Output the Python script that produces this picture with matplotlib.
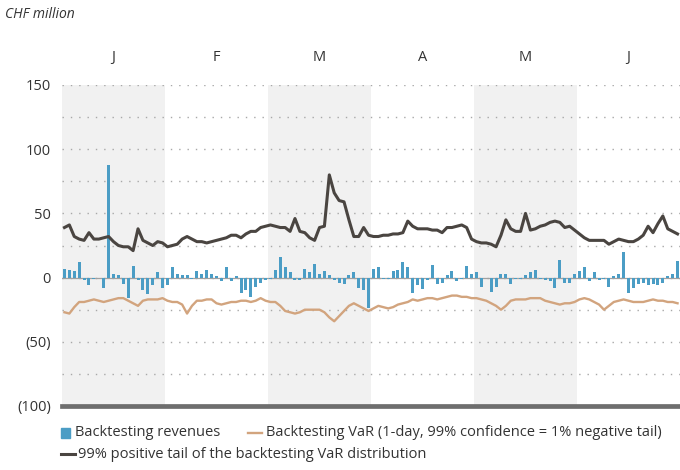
import matplotlib
matplotlib.use("Agg")
import matplotlib.pyplot as plt
from matplotlib.lines import Line2D
from matplotlib.patches import Rectangle
from matplotlib.ticker import MultipleLocator, FuncFormatter

# ---- data (CHF million, daily, Jan-Jun) ----
months = ["J", "F", "M", "A", "M", "J"]
days_per_month = 21

revenues = [7, 6, 5, 12, -2, -6, -1, 0, -8, 88, 3, 2, -5, -16, 9, -2, -10, -13, -6, 4, -8,
            -6, 8.5, 3, 2, 2, -1, 5, 3, 6, 3, 1, -3, 8, -3, 1, -12, -9.5, -15, -7, -4,
            -2, -1, 6, 16, 8, 4, -2, -2, 7, 4, 10.5, 3, 5, 2, -2, -4, -5, 2, 4, -8, -10, -24,
            7, 8, -1, -1, 5, 6, 12, 8, -12, -6, -9, -2, 10, -5, -4, 2, 5, -3, -1, 9,
            3, 4, -7, 0, -11, -7, 3, 3, -5, -1, -1, 2, 4, 6, -1, -2, -3, -8, 14, -4, -4,
            3, 5, 8, -3, 4, -2, -1, -7, 1, 3, 20, -12, -8, -5, -4, -6, -5, -6, -4, 1, 3, 13]

var_1day = [-27, -28, -23, -19, -19, -18, -17, -18, -19, -18, -17, -16, -16, -18, -20, -22, -18, -17, -17, -17, -16,
            -18, -19, -19, -21, -28, -22, -18, -18, -17, -17, -20, -21, -20, -19, -19, -18, -18, -19, -18, -16,
            -18, -19, -19, -22, -26, -27, -28, -27, -25, -25, -25, -25, -27, -31, -34, -30, -26, -22, -20, -22, -24, -26,
            -24, -22, -23, -24, -23, -21, -20, -19, -17, -18, -17, -16, -16, -17, -16, -15, -14, -14, -15, -15,
            -16, -16, -17, -18, -20, -22, -25, -22, -18, -17, -17, -17, -16, -16, -16, -18, -19, -20, -21, -20, -20,
            -19, -17, -16, -17, -19, -21, -25, -22, -19, -18, -17, -18, -19, -19, -19, -18, -17, -18, -18, -19, -19, -20]

pos_tail = [39, 41, 32, 30, 29, 35, 30, 30, 31, 32, 28, 25, 24, 24, 21, 38, 29, 27, 25, 28, 27,
            24, 25, 26, 30, 32, 30, 28, 28, 27, 28, 29, 30, 31, 33, 33, 31, 34, 36, 36, 39,
            40, 41, 40, 39, 39, 36, 46, 36, 35, 31, 29, 39, 40, 80, 66, 60, 59, 45, 32, 32, 39, 33,
            32, 32, 33, 33, 34, 34, 35, 44, 40, 38, 38, 38, 37, 37, 35, 39, 39, 40, 41, 39,
            30, 28, 27, 27, 26, 24, 33, 45, 38, 36, 36, 50, 37, 38, 40, 41, 43, 44, 43, 39, 40,
            37, 34, 31, 29, 29, 29, 29, 26, 28, 30, 29, 28, 28, 30, 33, 40, 35, 42, 48, 38, 36, 34]

yticks = [150, 100, 50, 0, -50, -100]

legend_labels = ["Backtesting revenues",
                 "Backtesting VaR (1-day, 99% confidence = 1% negative tail)",
                 "99% positive tail of the backtesting VaR distribution"]

# ---- style ----
c_bar = "#4b9dc5"
c_var = "#d2a47e"
c_tail = "#4a4541"
c_text = "#333333"
c_band = "#f1f1f1"
plt.rcParams["font.family"] = ["Open Sans", "DejaVu Sans"]

fig = plt.figure(figsize=(6.8, 4.7), dpi=100)
ax = fig.add_axes([62 / 680, (470 - 406) / 470, (680 - 62) / 680, (406 - 85) / 470])

n = len(revenues)
days = list(range(n))

# month bands
for k in range(len(months)):
    x0 = -0.5 + k * days_per_month
    if k % 2 == 0:
        ax.axvspan(x0, x0 + days_per_month, color=c_band, zorder=0, lw=0)
    ax.text(x0 + days_per_month / 2, 1.087, months[k], transform=ax.get_xaxis_transform(),
            ha="center", va="center", fontsize=10.5, color=c_text)

ax.set_xlim(-0.5, n - 0.5)
ax.set_ylim(-100, 150)

ax.yaxis.set_major_locator(MultipleLocator(50))
ax.yaxis.set_minor_locator(MultipleLocator(25))
ax.grid(axis="y", which="both", linestyle=(0, (1, 5)), color="#a8a8a8", lw=1.0, zorder=1)
ax.axhline(0, color="#a0a0a0", lw=0.9, zorder=2)

ax.bar(days, revenues, width=0.62, color=c_bar, zorder=3)
ax.plot(days, var_1day, color=c_var, lw=1.7, zorder=4)
ax.plot(days, pos_tail, color=c_tail, lw=2.2, zorder=5)

for s in ["top", "right", "left"]:
    ax.spines[s].set_visible(False)
ax.spines["bottom"].set_linewidth(3.4)
ax.spines["bottom"].set_color("#6e6e6e")
ax.spines["bottom"].set_position(("data", -100))
ax.set_xticks([])
ax.set_yticks(yticks)
ax.yaxis.set_major_formatter(FuncFormatter(lambda v, p: f"({abs(int(v))})" if v < 0 else f"{int(v)}"))
ax.tick_params(axis="y", which="both", length=0, pad=8, labelsize=10.5, labelcolor=c_text)

fig.text(5 / 680, 1 - 14 / 470, "CHF million", fontsize=10, style="italic", color=c_text,
         ha="left", va="center")

# legend (manual)
fs = 10.5
fig.patches.append(Rectangle((61 / 680, 1 - 438 / 470), 9 / 680, 10 / 470,
                             transform=fig.transFigure, color=c_bar, figure=fig))
fig.text(75 / 680, 1 - 433 / 470, legend_labels[0], fontsize=fs, color=c_text, va="center")
fig.lines.append(Line2D([248 / 680, 262 / 680], [1 - 433 / 470] * 2, transform=fig.transFigure,
                        color=c_var, lw=1.7, figure=fig))
fig.text(266 / 680, 1 - 433 / 470, legend_labels[1], fontsize=fs, color=c_text, va="center")
fig.lines.append(Line2D([61 / 680, 75 / 680], [1 - 454 / 470] * 2, transform=fig.transFigure,
                        color=c_tail, lw=2.2, figure=fig))
fig.text(78 / 680, 1 - 454 / 470, legend_labels[2], fontsize=fs, color=c_text, va="center")

fig.savefig("out.png", dpi=100)
